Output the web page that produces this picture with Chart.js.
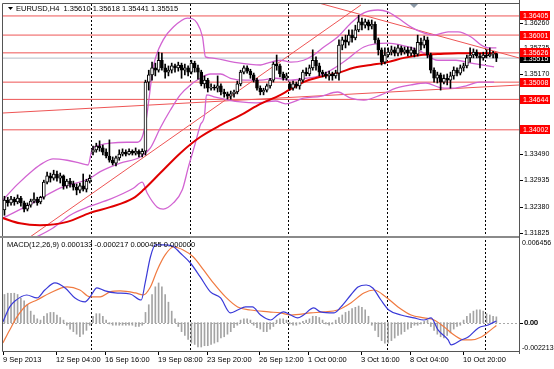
<!DOCTYPE html>
<html>
<head>
<meta charset="utf-8">
<script src="https://cdn.jsdelivr.net/npm/chart.js@4/dist/chart.umd.min.js"></script>
<style>
  html, body { margin: 0; padding: 0; background: #fff; }
  #wrap { position: relative; width: 554px; height: 369px; overflow: hidden; }
  canvas { position: absolute; left: 0; }
  #main { top: 0; }
  #macd { top: 238px; }
</style>
</head>
<body>
<div id="wrap">
  <canvas id="main" width="554" height="238"></canvas>
  <canvas id="macd" width="554" height="131"></canvas>
</div>
<script>
// EURUSD H4 candles, bar 0 = 9 Sep 2013, bar 150 = 14 Oct 2013
const OPEN = [1.3231,1.3252,1.3246,1.3254,1.3248,1.3256,1.3246,1.3233,1.3241,1.3250,
  1.3254,1.3248,1.3258,1.3290,1.3303,1.3298,1.3307,1.3298,1.3303,1.3282,
  1.3292,1.3286,1.3279,1.3273,1.3282,1.3275,1.3292,1.3353,1.3358,1.3366,
  1.3362,1.3353,1.3345,1.3336,1.3330,1.3341,1.3349,1.3353,1.3349,1.3355,
  1.3351,1.3355,1.3349,1.3355,1.3501,1.3516,1.3531,1.3526,1.3547,1.3531,
  1.3522,1.3526,1.3535,1.3531,1.3537,1.3526,1.3531,1.3522,1.3541,1.3531,
  1.3522,1.3497,1.3505,1.3488,1.3490,1.3488,1.3493,1.3480,1.3476,1.3471,
  1.3476,1.3480,1.3497,1.3522,1.3531,1.3524,1.3516,1.3505,1.3488,1.3480,
  1.3484,1.3493,1.3505,1.3539,1.3535,1.3518,1.3509,1.3497,1.3488,1.3497,
  1.3493,1.3505,1.3522,1.3518,1.3531,1.3547,1.3535,1.3522,1.3518,1.3514,
  1.3518,1.3514,1.3520,1.3579,1.3590,1.3585,1.3600,1.3594,1.3611,1.3628,
  1.3621,1.3628,1.3619,1.3623,1.3590,1.3569,1.3543,1.3558,1.3564,1.3569,
  1.3562,1.3573,1.3564,1.3569,1.3562,1.3569,1.3560,1.3585,1.3579,1.3590,
  1.3558,1.3526,1.3509,1.3516,1.3501,1.3509,1.3505,1.3514,1.3526,1.3520,
  1.3531,1.3535,1.3552,1.3558,1.3564,1.3556,1.3552,1.3558,1.3556,1.3560,
  1.35610];
const HIGH = [1.3260,1.3258,1.3260,1.3258,1.3263,1.3260,1.3250,1.3246,1.3254,1.3267,
  1.3258,1.3260,1.3294,1.3311,1.3309,1.3315,1.3313,1.3309,1.3305,1.3296,
  1.3298,1.3292,1.3286,1.3288,1.3307,1.3296,1.3305,1.3366,1.3372,1.3377,
  1.3368,1.3360,1.3379,1.3343,1.3345,1.3358,1.3360,1.3358,1.3360,1.3358,
  1.3362,1.3358,1.3360,1.3505,1.3526,1.3543,1.3541,1.3564,1.3562,1.3539,
  1.3535,1.3541,1.3539,1.3543,1.3541,1.3539,1.3535,1.3547,1.3545,1.3537,
  1.3526,1.3514,1.3509,1.3497,1.3495,1.3514,1.3497,1.3486,1.3480,1.3482,
  1.3484,1.3503,1.3526,1.3535,1.3535,1.3528,1.3520,1.3509,1.3493,1.3488,
  1.3497,1.3509,1.3543,1.3558,1.3539,1.3522,1.3520,1.3501,1.3503,1.3501,
  1.3509,1.3526,1.3531,1.3537,1.3569,1.3554,1.3541,1.3526,1.3522,1.3524,
  1.3522,1.3526,1.3590,1.3596,1.3600,1.3611,1.3611,1.3621,1.3642,1.3636,
  1.3634,1.3632,1.3632,1.3628,1.3594,1.3573,1.3573,1.3573,1.3577,1.3575,
  1.3579,1.3577,1.3575,1.3575,1.3575,1.3573,1.3600,1.3594,1.3598,1.3596,
  1.3562,1.3531,1.3522,1.3520,1.3516,1.3518,1.3522,1.3533,1.3531,1.3537,
  1.3541,1.3558,1.3573,1.3571,1.3569,1.3562,1.3564,1.3569,1.3573,1.3566,
  1.35618];
const LOW = [1.3220,1.3239,1.3241,1.3241,1.3244,1.3239,1.3227,1.3229,1.3237,1.3246,
  1.3241,1.3244,1.3254,1.3286,1.3290,1.3294,1.3292,1.3288,1.3275,1.3277,
  1.3279,1.3273,1.3263,1.3267,1.3271,1.3269,1.3288,1.3347,1.3353,1.3355,
  1.3347,1.3341,1.3332,1.3326,1.3324,1.3336,1.3345,1.3345,1.3347,1.3347,
  1.3347,1.3343,1.3343,1.3347,1.3484,1.3505,1.3514,1.3522,1.3526,1.3509,
  1.3514,1.3520,1.3522,1.3524,1.3509,1.3516,1.3514,1.3518,1.3522,1.3507,
  1.3493,1.3488,1.3480,1.3484,1.3484,1.3480,1.3474,1.3469,1.3465,1.3465,
  1.3469,1.3476,1.3493,1.3518,1.3520,1.3509,1.3501,1.3484,1.3474,1.3474,
  1.3480,1.3488,1.3501,1.3526,1.3512,1.3505,1.3505,1.3484,1.3484,1.3488,
  1.3486,1.3501,1.3514,1.3514,1.3526,1.3526,1.3514,1.3512,1.3509,1.3505,
  1.3505,1.3509,1.3505,1.3569,1.3573,1.3579,1.3585,1.3590,1.3607,1.3611,
  1.3615,1.3611,1.3613,1.3583,1.3558,1.3537,1.3539,1.3554,1.3558,1.3556,
  1.3556,1.3558,1.3560,1.3556,1.3556,1.3554,1.3556,1.3569,1.3573,1.3552,
  1.3520,1.3501,1.3499,1.3484,1.3497,1.3495,1.3488,1.3507,1.3514,1.3516,
  1.3524,1.3531,1.3543,1.3552,1.3552,1.3531,1.3547,1.3552,1.3554,1.3552,
  1.35441];
const CLOSE = [1.3252,1.3246,1.3254,1.3248,1.3256,1.3246,1.3233,1.3241,1.3250,1.3254,
  1.3246,1.3258,1.3290,1.3303,1.3298,1.3307,1.3298,1.3303,1.3282,1.3292,
  1.3286,1.3279,1.3273,1.3282,1.3275,1.3292,1.3298,1.3358,1.3366,1.3362,
  1.3353,1.3345,1.3336,1.3330,1.3341,1.3349,1.3353,1.3349,1.3355,1.3351,
  1.3355,1.3349,1.3355,1.3501,1.3516,1.3531,1.3526,1.3547,1.3531,1.3522,
  1.3526,1.3535,1.3531,1.3537,1.3526,1.3531,1.3522,1.3541,1.3531,1.3522,
  1.3497,1.3505,1.3488,1.3490,1.3488,1.3493,1.3480,1.3476,1.3471,1.3476,
  1.3480,1.3497,1.3522,1.3531,1.3524,1.3516,1.3505,1.3488,1.3480,1.3484,
  1.3493,1.3505,1.3539,1.3535,1.3518,1.3509,1.3514,1.3488,1.3497,1.3493,
  1.3505,1.3522,1.3518,1.3531,1.3547,1.3535,1.3522,1.3518,1.3514,1.3518,
  1.3514,1.3520,1.3579,1.3590,1.3585,1.3600,1.3594,1.3611,1.3628,1.3621,
  1.3628,1.3619,1.3623,1.3590,1.3569,1.3543,1.3558,1.3564,1.3569,1.3562,
  1.3573,1.3564,1.3569,1.3562,1.3569,1.3560,1.3585,1.3579,1.3590,1.3558,
  1.3526,1.3509,1.3516,1.3501,1.3509,1.3505,1.3514,1.3526,1.3520,1.3531,
  1.3535,1.3552,1.3558,1.3564,1.3556,1.3552,1.3558,1.3556,1.3560,1.3561,
  1.35515];

// indicator lines as [bar, value]
const MA_RED = [[-0.5,1.3214],[4.7,1.3203],[10.8,1.3199],[19.1,1.3206],[26.1,1.3225],[32.2,1.3237],
  [39.3,1.3256],[42.3,1.3273],[47.5,1.3309],[53.6,1.3351],[59.7,1.3385],[65.9,1.3410],[72,1.3431],
  [77.2,1.3452],[84.2,1.3474],[91.2,1.3501],[96.4,1.3512],[101.6,1.3520],[106.5,1.3531],[111.7,1.3537],
  [116.9,1.3543],[121.8,1.3552],[127,1.3558],[132.2,1.3560],[138.3,1.3562],[144.5,1.3562],[150,1.3562]];
const BB_UP = [[-0.5,1.3252],[3.8,1.3284],[8.7,1.3315],[11.7,1.3330],[14.8,1.3339],[19.1,1.3336],
  [23,1.3330],[25.5,1.3326],[26.7,1.3358],[29.2,1.3368],[32.2,1.3372],[37.4,1.3374],[40.5,1.3374],
  [42,1.3385],[43.2,1.3421],[45.4,1.3533],[48.4,1.3590],[51.5,1.3617],[55.8,1.3636],[58.8,1.3625],
  [60.4,1.3596],[61.3,1.3554],[62.8,1.3552],[69.8,1.3543],[78.1,1.3537],[80.2,1.3541],[84.2,1.3547],
  [87.3,1.3543],[91.2,1.3547],[94.3,1.3558],[97.4,1.3575],[101.6,1.3596],[105.6,1.3625],[109.6,1.3647],
  [113.9,1.3653],[116.9,1.3649],[120,1.3636],[124,1.3617],[128,1.3604],[131,1.3600],[135.3,1.3607],
  [138.3,1.3607],[142.3,1.3596],[145.4,1.3579],[147.8,1.3573],[150,1.3573]];
const BB_MID = [[-0.5,1.3214],[8.7,1.3246],[16.9,1.3277],[26.1,1.3298],[29.2,1.3312],[35.3,1.3330],
  [41.4,1.3343],[44.5,1.3362],[47.5,1.3404],[50.6,1.3442],[53.6,1.3474],[56.7,1.3495],[59.7,1.3509],
  [62.8,1.3518],[65.9,1.3518],[68.9,1.3509],[73.5,1.3505],[78.1,1.3505],[82.7,1.3509],[87.3,1.3505],
  [91.9,1.3509],[94.9,1.3512],[99.5,1.3526],[104.1,1.3547],[109.6,1.3575],[116.9,1.3583],[120.9,1.3579],
  [126.1,1.3569],[132.2,1.3547],[137.7,1.3547],[142.3,1.3541],[149.3,1.3533]];
const BB_LOW = [[-0.5,1.3146],[7.8,1.3168],[14.8,1.3193],[20,1.3220],[26.1,1.3239],[32.2,1.3254],
  [39.3,1.3277],[42,1.3290],[43.5,1.3267],[46.6,1.3237],[48.4,1.3233],[51.5,1.3246],[54.2,1.3273],
  [56.1,1.3322],[58.2,1.3372],[59.7,1.3410],[61,1.3431],[61.6,1.3474],[64.3,1.3469],[68.3,1.3463],
  [72,1.3459],[76.6,1.3457],[82.7,1.3461],[85.7,1.3455],[91.2,1.3467],[96.4,1.3471],[101.6,1.3480],
  [105.6,1.3467],[109.6,1.3463],[114.8,1.3474],[119.4,1.3488],[124,1.3495],[128.5,1.3499],[132.5,1.3490],
  [136.8,1.3488],[140.8,1.3493],[144.8,1.3501],[149.3,1.3501]];

// MACD pane
const MACD_HIST = [0.0022,0.0023,0.0023,0.0023,0.0022,0.0019,0.0017,0.0014,0.0009,0.0006,
  0.0003,0.0002,0.0005,0.0007,0.0008,0.0008,0.0006,0.0004,0.0002,-0.0002,
  -0.0005,-0.0007,-0.0009,-0.0011,-0.0009,-0.0006,-0.0002,0.0005,0.0007,0.0007,
  0.0005,0.0002,-0.0001,-0.0002,-0.0002,-0.0002,-0.0002,-0.0002,-0.0002,-0.0002,
  -0.0003,-0.0003,-0.0002,0.0008,0.0014,0.0022,0.0028,0.0031,0.0028,0.0022,
  0.0016,0.0009,0.0003,-0.0003,-0.0007,-0.0010,-0.0013,-0.0016,-0.0017,-0.0019,
  -0.0019,-0.0018,-0.0018,-0.0017,-0.0016,-0.0015,-0.0012,-0.0011,-0.0009,-0.0007,
  -0.0004,-0.0002,0.0002,0.0003,0.0003,0.0002,-0.0002,-0.0004,-0.0005,-0.0007,
  -0.0007,-0.0005,-0.0003,0.0002,0.0003,0.0003,0.0002,-0.0001,-0.0002,-0.0002,
  -0.0001,0.0001,0.0002,0.0003,0.0005,0.0005,0.0004,0.0002,-0.0001,-0.0002,
  -0.0001,0.0002,0.0004,0.0006,0.0008,0.0009,0.0011,0.0012,0.0013,0.0012,
  0.0010,0.0005,-0.0002,-0.0006,-0.0011,-0.0014,-0.0016,-0.0016,-0.0014,-0.0012,
  -0.0010,-0.0009,-0.0007,-0.0005,-0.0004,-0.0002,-0.0002,-0.0001,0.0001,0.0002,
  -0.0003,-0.0006,-0.0009,-0.0011,-0.0012,-0.0010,-0.0008,-0.0005,-0.0003,-0.0002,
  0.0002,0.0005,0.0007,0.0009,0.0010,0.0010,0.0009,0.0007,0.0006,0.0005,
  0.000455];
const MACD_MAIN = [[-0.5,0.00005],[1.6,0.00123],[3.2,0.00169],[6.8,0.00216],[9.9,0.00193],[12.3,0.00255],
  [15.4,0.00310],[18.5,0.00271],[21.5,0.00193],[24.6,0.00162],[26.1,0.00201],[28.2,0.00271],[30.7,0.00248],
  [33.8,0.00232],[38.3,0.00224],[41.7,0.00177],[42.9,0.00310],[44.5,0.00513],[46,0.00607],[48.4,0.00607],
  [51.2,0.00599],[53.6,0.00544],[56.7,0.00466],[59.7,0.00357],[62.8,0.00240],[65.9,0.00193],[68.9,0.00076],
  [71.1,0.00099],[73.5,0.00123],[75.6,0.00123],[78.1,0.00060],[81.2,0.00021],[83.3,0.00060],[85.1,0.00084],
  [87.3,0.00060],[89.4,0.00037],[91.2,0.00060],[94.3,0.00115],[96.4,0.00084],[100.4,0.00076],[102.6,0.00123],
  [105.6,0.00216],[107.8,0.00279],[110.3,0.00294],[112.3,0.00271],[114.8,0.00177],[117.2,0.00099],
  [120.9,0.00060],[124.9,0.00037],[127.9,0.00021],[130.1,0.00037],[132.2,-0.00057],[135.3,-0.00135],
  [136.2,-0.00174],[139.3,-0.00135],[141.4,-0.00112],[144.5,-0.00041],[147.5,-0.00018],[150,0.000133]];
const MACD_SIGNAL = [[-0.5,-0.00159],[1.6,-0.00057],[3.8,0.00045],[6.8,0.00138],[9.9,0.00177],[13.9,0.00232],
  [19.1,0.00279],[23,0.00255],[26.1,0.00201],[29.2,0.00201],[32.2,0.00240],[35.3,0.00248],[39.9,0.00232],
  [42.3,0.00216],[44.5,0.00279],[46.6,0.00412],[49,0.00529],[51.5,0.00591],[54.5,0.00568],[57.6,0.00513],
  [60.7,0.00412],[63.7,0.00310],[67.4,0.00201],[71.1,0.00123],[75,0.00099],[80.6,0.00084],[84.1,0.00076],
  [87.3,0.00060],[93.4,0.00076],[97.4,0.00084],[101.6,0.00099],[105.6,0.00154],[109.6,0.00232],
  [112.7,0.00255],[116.3,0.00201],[120,0.00123],[124,0.00060],[127.9,0.00037],[131,0.00021],
  [134.1,-0.00034],[137.1,-0.00096],[140.2,-0.00135],[142.3,-0.00135],[145.4,-0.00112],[147.5,-0.00073],
  [150,-0.000217]];

// levels, trend lines, labels
const LEVELS = [1.36405, 1.36001, 1.35626, 1.35008, 1.34644, 1.34002];
const LAST_PRICE = 1.35515;
const TRENDLINES = [
  [[-0.5, 1.34357], [157, 1.34948]],
  [[7.8, 1.31741], [108.7, 1.36636]],
  [[90.3, 1.36783], [157, 1.35517]]
];
const PRICE_TICKS = [1.36260, 1.35725, 1.35170, 1.34600, 1.34045, 1.33490, 1.32935, 1.32380, 1.31825];
const TIME_LABELS = [[0, '9 Sep 2013'], [16, '12 Sep 04:00'], [31, '16 Sep 16:00'], [47, '19 Sep 08:00'],
  [62, '23 Sep 20:00'], [78, '26 Sep 12:00'], [93, '1 Oct 00:00'], [109, '3 Oct 16:00'],
  [124, '8 Oct 04:00'], [140, '10 Oct 20:00']];
const WEEK_SEPS = [26.5, 56.5, 86.5, 116.5, 146.5];
const HEADER = 'EURUSD,H4  1.35610 1.35618 1.35441 1.35515';
const MACD_HEADER = 'MACD(12,26,9) 0.000133 -0.000217 0.000455 0.000000';
const MACD_MAX = 0.006456;
const MACD_MIN = -0.002213;

// axis ranges
const X_MIN = -0.45, X_MAX = 156.9;
const P_MIN = 1.317617, P_MAX = 1.366569;

const FONT = '"Liberation Sans", Arial, sans-serif';
const BAND = '#d264d2';
const LEVEL_RED = '#ee5555';

const pts = arr => arr.map(p => ({ x: p[0], y: p[1] }));

function lineDs(data, color, width, extra) {
  return Object.assign({
    type: 'line', data: pts(data), borderColor: color, borderWidth: width,
    pointRadius: 0, fill: false, cubicInterpolationMode: 'monotone'
  }, extra || {});
}

function drawSeps(chart) {
  const { ctx, chartArea: a, scales: { x } } = chart;
  ctx.save();
  ctx.strokeStyle = '#000';
  ctx.lineWidth = 1;
  ctx.setLineDash([2, 2]);
  WEEK_SEPS.forEach(v => {
    const px = Math.round(x.getPixelForValue(v)) + 0.5;
    ctx.beginPath();
    ctx.moveTo(px, a.top);
    ctx.lineTo(px, a.bottom);
    ctx.stroke();
  });
  ctx.restore();
}

// main pane decorations
const mainDecor = {
  id: 'mainDecor',
  beforeDatasetsDraw(chart) { drawSeps(chart); },
  afterDraw(chart) {
    const { ctx, chartArea: a, scales: { y } } = chart;
    ctx.save();
    // frame
    ctx.fillStyle = '#8a8a8a';
    ctx.fillRect(0, a.bottom, a.right, 2);
    ctx.strokeStyle = '#555';
    ctx.lineWidth = 1;
    ctx.beginPath();
    ctx.moveTo(a.left - 0.5, a.top - 0.5); ctx.lineTo(a.right + 0.5, a.top - 0.5);
    ctx.moveTo(a.left - 0.5, a.top - 0.5); ctx.lineTo(a.left - 0.5, a.bottom);
    ctx.moveTo(a.right + 0.5, 0); ctx.lineTo(a.right + 0.5, chart.height);
    ctx.stroke();

    // chart shift marker
    ctx.fillStyle = '#8c9aa8';
    ctx.beginPath();
    ctx.moveTo(410, a.top); ctx.lineTo(418, a.top); ctx.lineTo(414, a.top + 4); ctx.closePath();
    ctx.fill();

    // header
    ctx.fillStyle = '#000';
    ctx.beginPath();
    ctx.moveTo(8, 7); ctx.lineTo(13, 7); ctx.lineTo(10.5, 10); ctx.closePath();
    ctx.fill();
    ctx.font = '7.5px ' + FONT;
    ctx.textBaseline = 'middle';
    ctx.textAlign = 'left';
    ctx.fillText(HEADER, 16, 9);

    // price axis
    ctx.font = '7px ' + FONT;
    PRICE_TICKS.forEach(v => {
      const py = Math.round(y.getPixelForValue(v));
      ctx.fillStyle = '#000';
      ctx.fillRect(a.right + 1, py, 3, 1);
      ctx.fillText(v.toFixed(5), a.right + 5, py + 0.5);
    });
    const box = (v, bg) => {
      const py = y.getPixelForValue(v);
      ctx.fillStyle = bg;
      ctx.fillRect(a.right + 1, Math.round(py - 4.5), 30, 9);
      ctx.fillStyle = '#fff';
      ctx.fillText(v.toFixed(5), a.right + 4, py + 0.5);
    };
    box(LAST_PRICE, '#000');
    LEVELS.forEach(v => box(v, '#ff0000'));
    ctx.restore();
  }
};

// MACD pane decorations
const macdDecor = {
  id: 'macdDecor',
  beforeDatasetsDraw(chart) {
    drawSeps(chart);
    const { ctx, chartArea: a, scales: { y } } = chart;
    const py = Math.round(y.getPixelForValue(0)) + 0.5;
    ctx.save();
    ctx.strokeStyle = '#a8a8a8';
    ctx.setLineDash([2, 2]);
    ctx.beginPath();
    ctx.moveTo(a.left, py); ctx.lineTo(a.right, py);
    ctx.stroke();
    ctx.restore();
  },
  afterDraw(chart) {
    const { ctx, chartArea: a, scales: { x, y } } = chart;
    ctx.save();
    ctx.strokeStyle = '#555';
    ctx.lineWidth = 1;
    ctx.beginPath();
    ctx.moveTo(a.left - 0.5, 0); ctx.lineTo(a.left - 0.5, a.bottom + 0.5);
    ctx.lineTo(a.right + 0.5, a.bottom + 0.5);
    ctx.moveTo(a.right + 0.5, 0); ctx.lineTo(a.right + 0.5, a.bottom + 3);
    ctx.stroke();

    ctx.fillStyle = '#000';
    ctx.font = '7.5px ' + FONT;
    ctx.textBaseline = 'middle';
    ctx.textAlign = 'left';
    ctx.fillText(MACD_HEADER, 7, 7);

    // value axis
    ctx.font = '7px ' + FONT;
    ctx.fillText(MACD_MAX.toFixed(6), a.right + 3, a.top + 3);
    const z = Math.round(y.getPixelForValue(0));
    ctx.fillRect(a.right + 1, z, 3, 1);
    ctx.fillText('0.00', a.right + 5, z + 0.5);
    ctx.fillText('0.00', a.right + 5.4, z + 0.5);
    ctx.fillText(MACD_MIN.toFixed(6), a.right + 3, a.bottom - 3);

    // time axis
    ctx.font = '7.5px ' + FONT;
    TIME_LABELS.forEach(t => {
      const px = Math.round(x.getPixelForValue(t[0]));
      ctx.fillRect(px - 1, a.bottom + 1, 1, 3);
      ctx.fillText(t[1], px - 1, a.bottom + 9);
    });
    ctx.restore();
  }
};

const common = {
  responsive: false,
  animation: false,
  devicePixelRatio: 1,
  events: [],
  plugins: { legend: { display: false }, tooltip: { enabled: false } }
};

// candles: bodies first so they sit on top of wicks and indicators
const bodies = {
  type: 'bar',
  data: OPEN.map((o, i) => ({ x: i, y: [o, CLOSE[i]] })),
  backgroundColor: OPEN.map((o, i) => CLOSE[i] >= o ? '#fff' : '#000'),
  borderColor: '#000',
  borderWidth: 1,
  borderSkipped: false,
  barThickness: 3,
  grouped: false
};
const wicks = {
  type: 'bar',
  data: LOW.map((l, i) => ({ x: i, y: [l, HIGH[i]] })),
  backgroundColor: '#000',
  borderWidth: 0,
  barThickness: 1,
  grouped: false
};

const mainSets = [bodies, wicks,
  lineDs(MA_RED, '#e00000', 2),
  lineDs(BB_UP, BAND, 1.3),
  lineDs(BB_MID, BAND, 1.3),
  lineDs(BB_LOW, BAND, 1.3)];
LEVELS.forEach(v => mainSets.push(lineDs([[X_MIN, v], [X_MAX, v]], LEVEL_RED, 1)));
TRENDLINES.forEach(t => mainSets.push(lineDs(t, LEVEL_RED, 1)));
mainSets.push(lineDs([[X_MIN, LAST_PRICE], [X_MAX, LAST_PRICE]], '#b4bcc8', 1));

new Chart(document.getElementById('main'), {
  type: 'bar',
  data: { datasets: mainSets },
  options: Object.assign({}, common, {
    layout: { padding: { left: 3, right: 35, top: 4, bottom: 2 } },
    scales: {
      x: { type: 'linear', min: X_MIN, max: X_MAX, offset: false, display: false },
      y: { type: 'linear', min: P_MIN, max: P_MAX, display: false }
    }
  }),
  plugins: [mainDecor]
});

new Chart(document.getElementById('macd'), {
  type: 'bar',
  data: {
    datasets: [
      lineDs(MACD_MAIN, '#3a3ad8', 1.2),
      lineDs(MACD_SIGNAL, '#f07a40', 1.2),
      {
        type: 'bar',
        data: MACD_HIST.map((v, i) => ({ x: i, y: v })),
        backgroundColor: '#a4a4a4',
        barThickness: 1,
        grouped: false
      }
    ]
  },
  options: Object.assign({}, common, {
    layout: { padding: { left: 3, right: 35, top: 2, bottom: 18 } },
    scales: {
      x: { type: 'linear', min: X_MIN, max: X_MAX, offset: false, display: false },
      y: { type: 'linear', min: MACD_MIN, max: MACD_MAX, display: false }
    }
  }),
  plugins: [macdDecor]
});
</script>
</body>
</html>
